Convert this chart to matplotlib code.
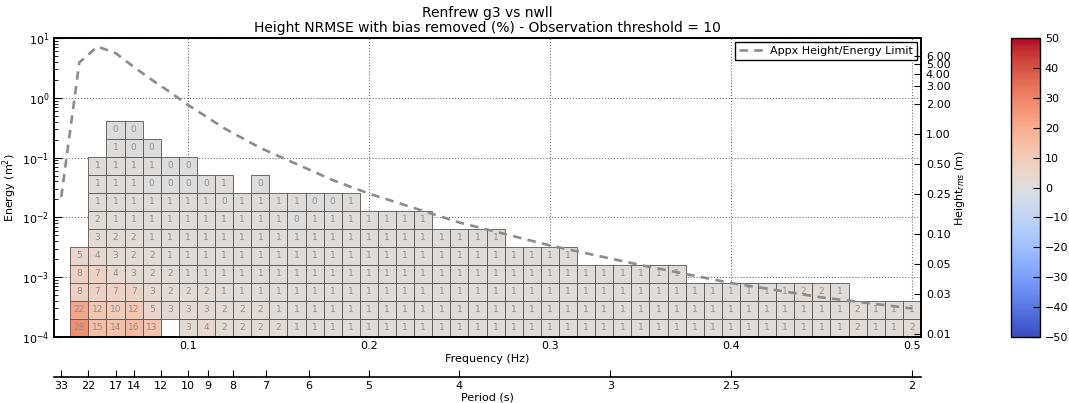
import numpy as np
import matplotlib
matplotlib.use("Agg")
import matplotlib.pyplot as plt
from matplotlib.ticker import FixedLocator, NullLocator, FixedFormatter
from matplotlib.patches import Rectangle
from matplotlib.collections import PatchCollection
from matplotlib.colors import Normalize

# ---------------------------------------------------------------- data
# frequency bin centres (Hz) and energy bin edges (m^2, doubling bins)
freq_centers = np.round(np.arange(0.04, 0.5001, 0.01), 2)
energy_edges = 1e-4 * 2.0 ** np.arange(13)

# NRMSE (%) per energy bin (bottom to top): first populated frequency column, values
row_first_col = [0, 0, 0, 0, 0, 1, 1, 1, 1, 1, 2, 2]
row_values = [
    [28, 15, 14, 16, 13, None, 3, 4, 2, 2, 2, 2,
     1, 1, 1, 1, 1, 1, 1, 1, 1, 1, 1, 1, 1, 1, 1, 1, 1, 1, 1, 1,
     1, 1, 1, 1, 1, 1, 1, 1, 1, 1, 1, 2, 1, 1, 2],
    [22, 12, 10, 12, 5, 3, 3, 3, 2, 2, 2,
     1, 1, 1, 1, 1, 1, 1, 1, 1, 1, 1, 1, 1, 1, 1, 1, 1, 1, 1, 1,
     1, 1, 1, 1, 1, 1, 1, 1, 1, 1, 1, 1, 2, 1, 1, 1],
    [8, 7, 7, 7, 3, 2, 2, 2,
     1, 1, 1, 1, 1, 1, 1, 1, 1, 1, 1, 1, 1, 1, 1, 1, 1, 1, 1, 1,
     1, 1, 1, 1, 1, 1, 1, 1, 1, 1, 1, 1, 2, 2, 1],
    [8, 7, 4, 3, 2, 2,
     1, 1, 1, 1, 1, 1, 1, 1, 1, 1, 1, 1, 1, 1, 1, 1, 1, 1, 1, 1,
     1, 1, 1, 1, 1, 1, 1, 1],
    [5, 4, 3, 2, 2,
     1, 1, 1, 1, 1, 1, 1, 1, 1, 1, 1, 1, 1, 1, 1, 1, 1, 1, 1, 1,
     1, 1, 1],
    [3, 2, 2,
     1, 1, 1, 1, 1, 1, 1, 1, 1, 1, 1, 1, 1, 1, 1, 1, 1, 1, 1, 1],
    [2, 1, 1, 1, 1, 1, 1, 1, 1, 1, 1, 0, 1, 1, 1, 1, 1, 1, 1],
    [1, 1, 1, 1, 1, 1, 1, 0, 1, 1, 1, 1, 0, 0, 1],
    [1, 1, 1, 0, 0, 0, 0, 1, None, 0],
    [1, 1, 1, 1, 0, 0],
    [1, 0, 0],
    [0, 0],
]

# approximate height/energy limit curve
limit_freq = [0.030, 0.040, 0.050, 0.060, 0.070, 0.080, 0.090, 0.100, 0.120,
              0.140, 0.160, 0.180, 0.200, 0.250, 0.300, 0.350, 0.400, 0.450, 0.500]
limit_energy = [0.022, 3.9, 7.2, 5.6, 3.3, 2.0, 1.25, 0.76, 0.31,
                0.145, 0.078, 0.042, 0.025, 0.0082, 0.0034, 0.0016, 0.00080, 0.00046, 0.00030]

freq_ticks = [0.1, 0.2, 0.3, 0.4, 0.5]
height_ticks = [0.01, 0.025, 0.05, 0.1, 0.25, 0.5, 1, 2, 3, 4, 5, 6]
period_tick_freq = [0.03, 0.045, 0.06, 0.07, 0.085, 0.1, 1 / 9, 0.125, 1 / 7,
                    1 / 6, 0.2, 0.25, 1 / 3, 0.4, 0.5]
period_labels = ["33", "22", "17", "14", "12", "10", "9", "8", "7",
                 "6", "5", "4", "3", "2.5", "2"]
cbar_ticks = [-50, -40, -30, -20, -10, 0, 10, 20, 30, 40, 50]

# ---------------------------------------------------------------- figure
W, H = 1069, 403
fig = plt.figure(figsize=(W / 100, H / 100), dpi=100)
fig.patch.set_facecolor("white")

L, R, T, B = 54, 921, 38, 337
ax = fig.add_axes([L / W, 1 - B / H, (R - L) / W, (B - T) / H])
ax.set_yscale("log")
ax.set_xlim(0.026, 0.505)
ax.set_ylim(1e-4, 10)

# one rectangle per populated (frequency, energy) bin
step = 0.01
cells, cell_vals = [], []
for r, (c0, vals) in enumerate(zip(row_first_col, row_values)):
    e0, e1 = energy_edges[r], energy_edges[r + 1]
    for i, v in enumerate(vals):
        if v is None:
            continue
        fc = freq_centers[c0 + i]
        cells.append(Rectangle((fc - step / 2, e0), step, e1 - e0))
        cell_vals.append(v)
        ax.text(fc, np.sqrt(e0 * e1), "%d" % v, ha="center", va="center",
                fontsize=6.5, color="#8f8f8f", zorder=3)

coll = PatchCollection(cells, cmap="coolwarm", norm=Normalize(-50, 50),
                       edgecolor="#555555", linewidth=0.6, zorder=2)
coll.set_array(np.array(cell_vals, dtype=float))
ax.add_collection(coll)

ax.plot(limit_freq, limit_energy, color="#8c8c8c", lw=1.9,
        linestyle=(0, (3.2, 2.4)), zorder=4, label="Appx Height/Energy Limit")

ax.grid(True, which="major", linestyle=":", color="0.45", linewidth=0.8)
ax.set_axisbelow(True)
ax.xaxis.set_major_locator(FixedLocator(freq_ticks))
ax.xaxis.set_major_formatter(FixedFormatter([str(t) for t in freq_ticks]))
ax.tick_params(axis="both", which="both", direction="in", labelsize=8,
               top=False, right=False)
ax.tick_params(axis="y", which="major", length=6)
ax.tick_params(axis="y", which="minor", length=3)
ax.tick_params(axis="x", which="major", length=5, pad=3)
for s in ax.spines.values():
    s.set_linewidth(1.2)
ax.set_xlabel("Frequency (Hz)", fontsize=8, labelpad=2)
ax.set_ylabel("Energy (m$^2$)", fontsize=8, labelpad=2)
ax.set_title("Renfrew g3 vs nwll\nHeight NRMSE with bias removed (%) - Observation threshold = 10",
             fontsize=10, pad=4, linespacing=1.1)

leg = ax.legend(loc="upper right", fontsize=8, fancybox=False, borderaxespad=0.35,
                handlelength=2.3, handletextpad=0.5, borderpad=0.35, framealpha=1)
leg.get_frame().set_edgecolor("black")
leg.get_frame().set_linewidth(1.0)

# right-hand height axis
ax2 = ax.twinx()
ax2.set_yscale("log")
ax2.set_ylim(0.0093, 9.16)
ax2.yaxis.set_major_locator(FixedLocator(height_ticks))
ax2.yaxis.set_major_formatter(FixedFormatter(["%.2f" % h for h in height_ticks]))
ax2.yaxis.set_minor_locator(NullLocator())
ax2.tick_params(axis="y", direction="in", labelsize=8, length=5)
ax2.set_ylabel("Height$_{rms}$ (m)", fontsize=8, labelpad=2)
for s in ax2.spines.values():
    s.set_linewidth(1.2)

# period axis beneath the frequency axis
axp = fig.add_axes([L / W, 1 - 377 / H, (R - L) / W, 1e-6])
axp.set_xlim(ax.get_xlim())
axp.patch.set_visible(False)
for side in ("top", "left", "right"):
    axp.spines[side].set_visible(False)
axp.spines["bottom"].set_linewidth(1.2)
axp.set_yticks([])
axp.xaxis.set_major_locator(FixedLocator(period_tick_freq))
axp.xaxis.set_major_formatter(FixedFormatter(period_labels))
axp.tick_params(axis="x", direction="in", length=5, labelsize=8, pad=3)
axp.set_xlabel("Period (s)", fontsize=8, labelpad=1)

# colour bar
cax = fig.add_axes([1011 / W, 1 - B / H, 29 / W, (B - T) / H])
cb = fig.colorbar(coll, cax=cax, ticks=cbar_ticks)
cb.ax.tick_params(direction="in", labelsize=8, length=5)
cb.outline.set_linewidth(1.0)

fig.savefig("out.png", dpi=100, facecolor="white")
